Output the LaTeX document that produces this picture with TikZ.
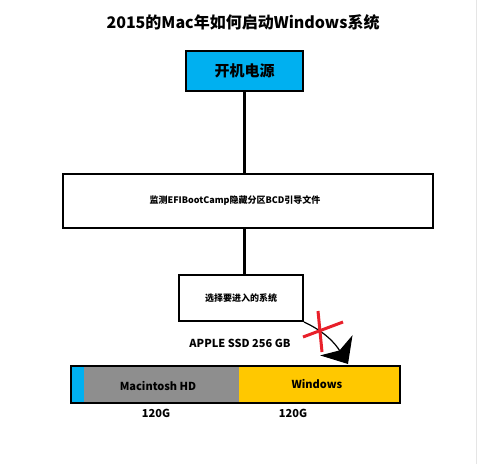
\documentclass[tikz,border=0pt]{standalone}
\usepackage{fontspec}
\setmainfont{Noto Sans CJK SC}
\usetikzlibrary{arrows.meta}
\usetikzlibrary{bending}
\definecolor{bootblue}{HTML}{00B0F0}
\definecolor{macgray}{HTML}{8E8E8E}
\definecolor{winyellow}{HTML}{FFC800}
\definecolor{crossred}{HTML}{E8202A}
\tikzstyle{stepbox}=[draw,line width=2pt,inner sep=0pt,font=\bfseries]
\tikzstyle{flowline}=[line width=3pt]
\tikzstyle{partlabel}=[font=\bfseries\fontsize{11}{13}\selectfont,inner sep=0pt]
\begin{document}
\begin{tikzpicture}[x=1pt,y=-1pt]
\useasboundingbox (0,0) rectangle (478,464);
% screenshot edge
\draw[gray!20,line width=1pt] (476.5,0) -- (476.5,464);
% title
\node[font=\bfseries\fontsize{16}{18}\selectfont] (title) at (243,22) {2015的Mac年如何启动Windows系统};
% flow boxes
\node[stepbox,fill=bootblue,minimum width=117pt,minimum height=40pt,font=\bfseries\fontsize{15}{17}\selectfont] (power) at (244.5,71) {开机电源};
\node[stepbox,minimum width=370pt,minimum height=54pt,font=\bfseries\fontsize{9}{11}\selectfont] (efi) at (248,201) {\hspace*{-26pt}监测EFIBootCamp隐藏分区BCD引导文件};
\node[stepbox,minimum width=124pt,minimum height=46pt,font=\bfseries\fontsize{9}{11}\selectfont] (choose) at (241,298) {选择要进入的系统};
\draw[flowline] (power.south) -- (power.south |- efi.north);
\draw[flowline] (power.south |- efi.south) -- (power.south |- choose.north);
% disk
\node[partlabel] (ssd) at (240,343) {APPLE SSD 256 GB};
\fill[bootblue] (71,366) rectangle (84,403);
\fill[macgray] (84,366) rectangle (239,403);
\fill[winyellow] (239,366) rectangle (400,403);
\draw[line width=1.5pt] (71,366) rectangle (400,403);
\node[partlabel] (mac) at (158,386) {Macintosh HD};
\node[partlabel] (win) at (317,384) {Windows};
\node[partlabel] (macsize) at (156,413) {120G};
\node[partlabel] (winsize) at (293,413) {120G};
% boot path, crossed out
\coordinate (tip) at (348,364);
\draw[line width=1.2pt,-{Stealth[length=22pt,width=38pt,inset=6pt,quick]}] (choose.south east) to[out=-25,in=122] (tip);
\draw[crossred,line width=3pt] (303,337) -- (343,322);
\draw[crossred,line width=3pt] (318,311) -- (322,352);
\end{tikzpicture}
\end{document}
